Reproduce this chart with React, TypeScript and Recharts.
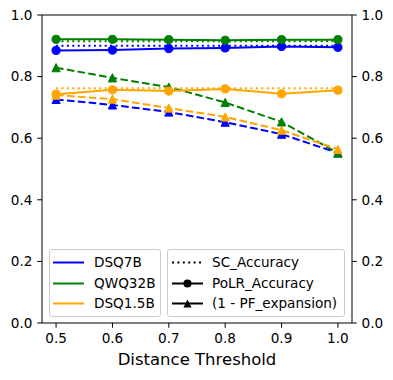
import React from 'react';
import {
  ComposedChart,
  Line,
  XAxis,
  YAxis,
  ReferenceLine,
  Legend,
} from 'recharts';

// ─── Data ─────────────────────────────────────────────────────────────────────

const thresholds = [0.5, 0.6, 0.7, 0.8, 0.9, 1.0];

const dsq7bSc = [0.9, 0.9, 0.9, 0.9, 0.9, 0.9];
const dsq7bPolr = [0.885, 0.886, 0.891, 0.893, 0.898, 0.895];
const dsq7bPf = [0.726, 0.708, 0.685, 0.652, 0.613, 0.552];

const qwq32bSc = [0.915, 0.915, 0.915, 0.915, 0.915, 0.915];
const qwq32bPolr = [0.921, 0.921, 0.92, 0.918, 0.92, 0.92];
const qwq32bPf = [0.829, 0.796, 0.766, 0.716, 0.653, 0.552];

const dsq15bSc = [0.762, 0.762, 0.762, 0.762, 0.762, 0.762];
const dsq15bPolr = [0.743, 0.757, 0.753, 0.76, 0.744, 0.756];
const dsq15bPf = [0.74, 0.727, 0.698, 0.669, 0.626, 0.564];

const xTicks = [0.5, 0.6, 0.7, 0.8, 0.9, 1.0];
const yTicks = [0, 0.2, 0.4, 0.6, 0.8, 1.0];

const models = [
  { name: 'DSQ7B', key: 'dsq7b', color: '#0000ff', sc: dsq7bSc, polr: dsq7bPolr, pf: dsq7bPf },
  { name: 'QWQ32B', key: 'qwq32b', color: '#008000', sc: qwq32bSc, polr: qwq32bPolr, pf: qwq32bPf },
  { name: 'DSQ1.5B', key: 'dsq15b', color: '#ffa500', sc: dsq15bSc, polr: dsq15bPolr, pf: dsq15bPf },
];

const rows = thresholds.map((t, i) => {
  const row: Record<string, number> = { t };
  models.forEach((m) => {
    row[`${m.key}_sc`] = m.sc[i];
    row[`${m.key}_polr`] = m.polr[i];
    row[`${m.key}_pf`] = m.pf[i];
  });
  return row;
});

// ─── Styles ───────────────────────────────────────────────────────────────────

const FONT = '"DejaVu Sans", sans-serif';
const TICK_FONT = 13.6;
const LW = 2;
const MARKER = 4.1;
const TICK_LEN = 4.8;
const DOTTED = '2 3.4';
const DASHED = '7.6 3.3';

const circleDot = (color: string) => (props: any) => {
  const { cx, cy, index } = props;
  if (cx == null || cy == null) return <g key={index} />;
  return <circle key={index} cx={cx} cy={cy} r={MARKER} fill={color} stroke={color} strokeWidth={1} />;
};

const triangleDot = (color: string) => (props: any) => {
  const { cx, cy, index } = props;
  if (cx == null || cy == null) return <g key={index} />;
  const s = MARKER;
  const pts = `${cx},${cy - s} ${cx - s},${cy + s} ${cx + s},${cy + s}`;
  return <polygon key={index} points={pts} fill={color} stroke={color} strokeWidth={1} />;
};

// ─── Legend ───────────────────────────────────────────────────────────────────

const boxStyle: React.CSSProperties = {
  position: 'absolute',
  top: 249,
  height: 68,
  border: '1px solid #cccccc',
  borderRadius: 3,
  background: 'rgba(255,255,255,0.8)',
  boxSizing: 'border-box',
};

function LegendRow({ top, children, label }: { top: number; children: React.ReactNode; label: string }) {
  return (
    <div style={{ position: 'absolute', left: 0, top, height: 21, width: '100%' }}>
      <svg width={40} height={21} style={{ position: 'absolute', left: 0, top: 0 }}>
        {children}
      </svg>
      <span
        style={{
          position: 'absolute',
          left: 44,
          top: 0,
          lineHeight: '21px',
          fontSize: TICK_FONT,
          fontFamily: FONT,
          color: '#000',
          whiteSpace: 'nowrap',
        }}
      >
        {label}
      </span>
    </div>
  );
}

function ChartLegend() {
  const rowTops = [1.5, 22.5, 43];
  return (
    <div style={{ position: 'relative', width: 393, height: 380, pointerEvents: 'none' }}>
      <div style={{ ...boxStyle, left: 49, width: 112 }}>
        {models.map((m, i) => (
          <LegendRow key={m.key} top={rowTops[i]} label={m.name}>
            <line x1={3} x2={34} y1={10.5} y2={10.5} stroke={m.color} strokeWidth={LW} />
          </LegendRow>
        ))}
      </div>
      <div style={{ ...boxStyle, left: 167, width: 178 }}>
        <LegendRow top={rowTops[0]} label="SC_Accuracy">
          <line x1={4} x2={35} y1={10.5} y2={10.5} stroke="#000" strokeWidth={LW} strokeDasharray={DOTTED} />
        </LegendRow>
        <LegendRow top={rowTops[1]} label="PoLR_Accuracy">
          <line x1={4} x2={35} y1={10.5} y2={10.5} stroke="#000" strokeWidth={LW} />
          <circle cx={19.5} cy={10.5} r={MARKER} fill="#000" />
        </LegendRow>
        <LegendRow top={rowTops[2]} label="(1 - PF_expansion)">
          <line x1={4} x2={35} y1={10.5} y2={10.5} stroke="#000" strokeWidth={LW} />
          <polygon
            points={`19.5,${10.5 - MARKER} ${19.5 - MARKER},${10.5 + MARKER} ${19.5 + MARKER},${10.5 + MARKER}`}
            fill="#000"
          />
        </LegendRow>
      </div>
    </div>
  );
}

// ─── Component ────────────────────────────────────────────────────────────────

export default function App() {
  const tickStyle = { fontSize: TICK_FONT, fontFamily: FONT, fill: '#000' };
  const axisStroke = { stroke: '#000', strokeWidth: 1 };

  return (
    <div style={{ position: 'absolute', left: 0, top: 0, width: 393, height: 380, background: '#fff' }}>
      <ComposedChart
        width={393}
        height={380}
        data={rows}
        margin={{ top: 15, right: 0, bottom: 0, left: 0 }}
      >
        <XAxis
          dataKey="t"
          type="number"
          domain={[0.475, 1.025]}
          ticks={xTicks}
          tickFormatter={(v: number) => v.toFixed(1)}
          height={57}
          tickSize={TICK_LEN}
          tickMargin={6}
          tick={tickStyle}
          axisLine={axisStroke}
          tickLine={axisStroke}
          label={{
            value: 'Distance Threshold',
            position: 'insideBottom',
            offset: 15.5,
            style: { fontSize: 16.5, fontFamily: FONT, fill: '#000' },
          }}
        />
        <YAxis
          yAxisId="left"
          type="number"
          domain={[0, 1]}
          ticks={yTicks}
          tickFormatter={(v: number) => v.toFixed(1)}
          width={42}
          tickSize={TICK_LEN}
          tickMargin={4.8}
          tick={tickStyle}
          axisLine={axisStroke}
          tickLine={axisStroke}
        />
        <YAxis
          yAxisId="right"
          orientation="right"
          type="number"
          domain={[0, 1]}
          ticks={yTicks}
          tickFormatter={(v: number) => v.toFixed(1)}
          width={41}
          tickSize={TICK_LEN}
          tickMargin={4.8}
          tick={tickStyle}
          axisLine={axisStroke}
          tickLine={axisStroke}
        />
        <ReferenceLine yAxisId="left" y={1} stroke="#000" strokeWidth={1} />

        {models.map((m) => [
          <Line
            key={`${m.key}_sc`}
            yAxisId="left"
            type="linear"
            dataKey={`${m.key}_sc`}
            stroke={m.color}
            strokeWidth={LW}
            strokeDasharray={DOTTED}
            dot={false}
            activeDot={false}
            isAnimationActive={false}
          />,
          <Line
            key={`${m.key}_polr`}
            yAxisId="left"
            type="linear"
            dataKey={`${m.key}_polr`}
            stroke={m.color}
            strokeWidth={LW}
            dot={circleDot(m.color)}
            activeDot={false}
            isAnimationActive={false}
          />,
          // PF series sit on the twin axis (same 0–1 scale) so it gets drawn
          <Line
            key={`${m.key}_pf`}
            yAxisId="right"
            type="linear"
            dataKey={`${m.key}_pf`}
            stroke={m.color}
            strokeWidth={LW}
            strokeDasharray={DASHED}
            dot={triangleDot(m.color)}
            activeDot={false}
            isAnimationActive={false}
          />,
        ])}

        <Legend
          layout="vertical"
          align="center"
          verticalAlign="middle"
          wrapperStyle={{ left: 0, top: 0, width: 393, height: 380 }}
          content={() => <ChartLegend />}
        />
      </ComposedChart>
    </div>
  );
}
